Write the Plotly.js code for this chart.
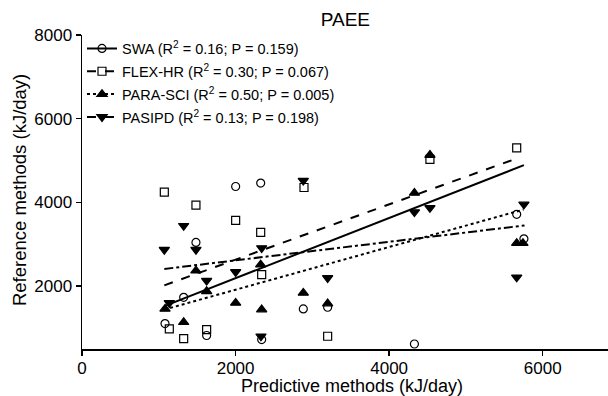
<!DOCTYPE html>
<html>
<head>
<meta charset="utf-8">
<script src="https://cdn.plot.ly/plotly-3.0.1.min.js"></script>
<style>html,body{margin:0;padding:0;background:#fff;}#chart{width:608px;height:396px;}</style>
</head>
<body>
<div id="chart"></div>
<script>
// Scatter data (predictive vs reference, kJ/day)
const swaX = [1081, 1324, 1484, 1623, 2001, 2327, 2340, 2882, 3199, 4329, 5661, 5755];
const swaY = [1108, 1735, 3046, 822, 4381, 4462, 726, 1458, 1497, 620, 3716, 3132];
const flexX = [1072, 1137, 1324, 1484, 1623, 2001, 2327, 2340, 2891, 3199, 4531, 5661];
const flexY = [4248, 981, 750, 3938, 965, 3571, 3285, 2276, 4357, 805, 5027, 5306];
const paraX = [1081, 1324, 1484, 1623, 2001, 2327, 2340, 2882, 3199, 4329, 4531, 5661, 5742];
const paraY = [1458, 1139, 2371, 1878, 1601, 2514, 1442, 1840, 1585, 4226, 5132, 3027, 3027];
const pasX = [1072, 1137, 1324, 1484, 1623, 2001, 2340, 2331, 2882, 3199, 4329, 4531, 5661, 5755];
const pasY = [2872, 1601, 3444, 2872, 2133, 2340, 2913, 805, 4524, 2197, 3771, 3873, 2212, 3954];

// Regression lines (end points)
const swaFitX = [1080, 5755];
const swaFitY = [1530, 4891];
const flexFitX = [1072, 5661];
const flexFitY = [2021, 5051];
const paraFitX = [1072, 5750];
const paraFitY = [1442, 3830];
const pasFitX = [1072, 5763];
const pasFitY = [2412, 3451];

// Legend labels and axis titles
const names = [
  'SWA (R<sup>2</sup> = 0.16; P = 0.159)',
  'FLEX-HR (R<sup>2</sup> = 0.30; P = 0.067)',
  'PARA-SCI (R<sup>2</sup> = 0.50; P = 0.005)',
  'PASIPD (R<sup>2</sup> = 0.13; P = 0.198)'
];
const xTitle = 'Predictive methods (kJ/day)';
const yTitle = 'Reference methods (kJ/day)';

const symbols = ['circle-open', 'square-open', 'triangle-up', 'triangle-down'];
const dashes = ['solid', 'dash', 'dot', 'dashdot'];
const sizes = [8, 8, 9, 9];

const pts = [[swaX, swaY], [flexX, flexY], [paraX, paraY], [pasX, pasY]];
const fits = [[swaFitX, swaFitY], [flexFitX, flexFitY], [paraFitX, paraFitY], [pasFitX, pasFitY]];

const traces = [];
for (let i = 0; i < 4; i++) {
  traces.push({
    x: pts[i][0], y: pts[i][1], type: 'scatter', mode: 'markers',
    legendgroup: 'g' + i, showlegend: false, hoverinfo: 'skip',
    marker: {symbol: symbols[i], size: sizes[i], color: '#000', line: {color: '#000', width: 1.2}}
  });
  // fit line; the leading null point carries the legend marker style
  traces.push({
    x: [null].concat(fits[i][0]), y: [null].concat(fits[i][1]),
    type: 'scatter', mode: 'lines+markers', name: names[i],
    legendgroup: 'g' + i, hoverinfo: 'skip',
    line: {color: '#000', width: 2, dash: dashes[i]},
    marker: {symbol: symbols[i], size: sizes[i],
      color: ['#000', 'rgba(0,0,0,0)', 'rgba(0,0,0,0)'],
      line: {color: ['#000', 'rgba(0,0,0,0)', 'rgba(0,0,0,0)'], width: 1.2}}
  });
}

const layout = {
  width: 608, height: 396,
  margin: {l: 82, r: 0, t: 35, b: 47},
  paper_bgcolor: '#fff', plot_bgcolor: '#fff',
  font: {family: 'Liberation Sans, Arial, sans-serif', color: '#000'},
  title: {text: 'PAEE', font: {size: 19, color: '#000'}, x: 0.568, xanchor: 'center', y: 0.95, yanchor: 'middle'},
  showlegend: true,
  legend: {x: 0, y: 1.008, xanchor: 'left', yanchor: 'top', bgcolor: 'rgba(0,0,0,0)',
           font: {size: 14.5, color: '#000'}, tracegroupgap: 1},
  xaxis: {
    range: [0, 6850], showgrid: false, zeroline: false,
    showline: true, linecolor: '#000', linewidth: 1.5,
    ticks: 'outside', ticklen: 5, tickwidth: 1.5, tickcolor: '#000',
    tickvals: [0, 2000, 4000, 6000], tickfont: {size: 17}, ticklabelstandoff: -2
  },
  yaxis: {
    range: [500, 8000], showgrid: false, zeroline: false,
    showline: true, linecolor: '#000', linewidth: 1.5,
    ticks: 'outside', ticklen: 5, tickwidth: 1.5, tickcolor: '#000',
    tickvals: [2000, 4000, 6000, 8000], tickfont: {size: 17}
  },
  annotations: [
    {text: xTitle, xref: 'paper', yref: 'paper', x: 0.513, y: -0.1165,
     xanchor: 'center', yanchor: 'middle', showarrow: false, font: {size: 18}},
    {text: yTitle, xref: 'paper', yref: 'paper', x: -0.1198, y: 0.506, textangle: -90,
     xanchor: 'center', yanchor: 'middle', showarrow: false, font: {size: 18.5}}
  ]
};

Plotly.newPlot('chart', traces, layout, {staticPlot: true});
</script>
</body>
</html>
